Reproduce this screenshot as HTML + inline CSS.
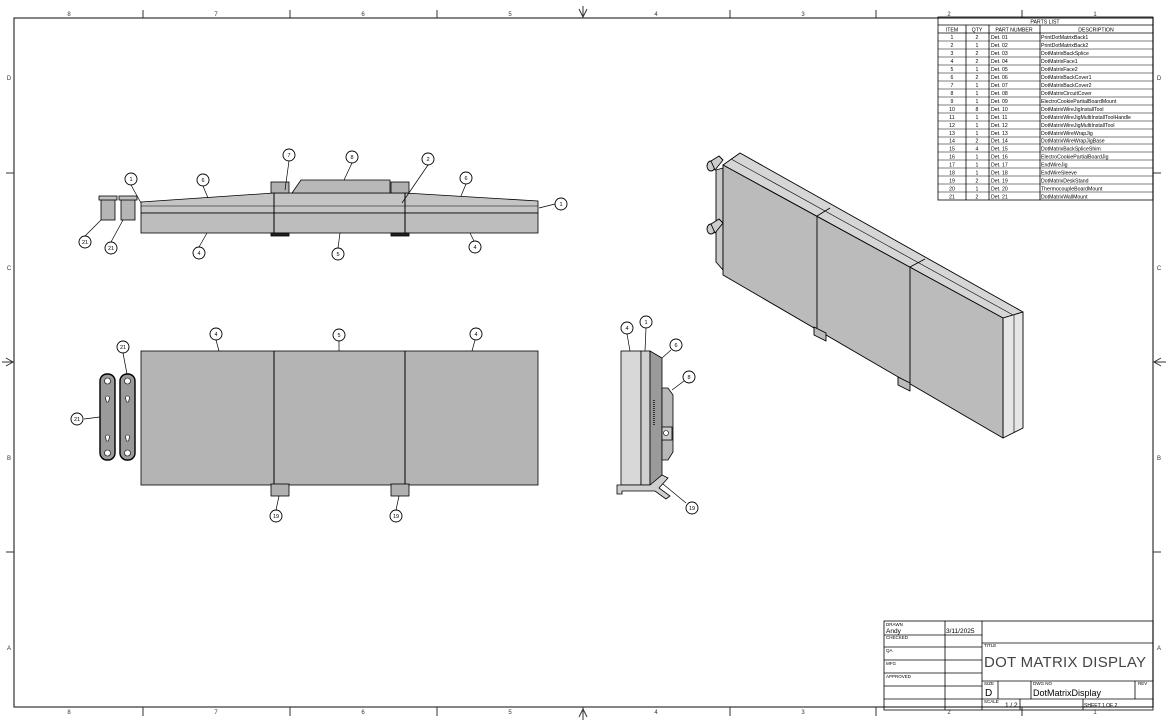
<!DOCTYPE html>
<html><head><meta charset="utf-8"><style>
html,body{margin:0;padding:0;background:#fff;}
svg{display:block;font-family:"Liberation Sans",sans-serif;}
</style></head><body>
<svg width="1167" height="726" viewBox="0 0 1167 726" xmlns="http://www.w3.org/2000/svg">
<defs>
<g id="b"><circle r="6" fill="#fff" stroke="#000" stroke-width="0.9"/></g>
</defs>
<rect x="14" y="18" width="1139" height="689" fill="none" stroke="#333" stroke-width="1.2"/>
<g stroke="#333" stroke-width="1">
<line x1="143" y1="10" x2="143" y2="18"/><line x1="290" y1="10" x2="290" y2="18"/><line x1="437" y1="10" x2="437" y2="18"/><line x1="583" y1="6" x2="583" y2="18"/><line x1="730" y1="10" x2="730" y2="18"/><line x1="876" y1="10" x2="876" y2="18"/><line x1="1022" y1="10" x2="1022" y2="18"/>
<line x1="143" y1="707" x2="143" y2="716"/><line x1="290" y1="707" x2="290" y2="716"/><line x1="437" y1="707" x2="437" y2="716"/><line x1="583" y1="707" x2="583" y2="720"/><line x1="730" y1="707" x2="730" y2="716"/><line x1="876" y1="707" x2="876" y2="716"/><line x1="1022" y1="707" x2="1022" y2="716"/>
<line x1="6" y1="173" x2="14" y2="173"/><line x1="2" y1="362" x2="14" y2="362"/><line x1="6" y1="552" x2="14" y2="552"/>
<line x1="1153" y1="173" x2="1161" y2="173"/><line x1="1153" y1="362" x2="1166" y2="362"/><line x1="1153" y1="552" x2="1161" y2="552"/>
</g>
<g fill="none" stroke="#333"><path d="M579 9 L583 17 L587 9"/><path d="M579 717 L583 709 L587 717"/><path d="M6 358 L13 362 L6 366"/><path d="M1161 358 L1154 362 L1161 366"/></g>
<g font-size="6" fill="#333" text-anchor="middle">
<text x="69" y="16">8</text><text x="216" y="16">7</text><text x="363" y="16">6</text><text x="510" y="16">5</text><text x="656" y="16">4</text><text x="803" y="16">3</text><text x="949" y="16">2</text><text x="1095" y="16">1</text>
<text x="69" y="714">8</text><text x="216" y="714">7</text><text x="363" y="714">6</text><text x="510" y="714">5</text><text x="656" y="714">4</text><text x="803" y="714">3</text><text x="949" y="714">2</text><text x="1095" y="714">1</text>
<text x="9" y="80">D</text><text x="9" y="270">C</text><text x="9" y="460">B</text><text x="9" y="650">A</text>
<text x="1159" y="80">D</text><text x="1159" y="270">C</text><text x="1159" y="460">B</text><text x="1159" y="650">A</text>
</g>

<g stroke="#000" stroke-width="0.8" fill="none">
<rect x="938" y="17" width="215" height="183"/>
<line x1="938" y1="25" x2="1153" y2="25"/>
<line x1="938" y1="33" x2="1153" y2="33"/>
<line x1="966" y1="25" x2="966" y2="200"/><line x1="989" y1="25" x2="989" y2="200"/><line x1="1040" y1="25" x2="1040" y2="200"/>
</g>
<g stroke="#000" stroke-width="0.5">
<line x1="938" y1="41" x2="1153" y2="41"/><line x1="938" y1="49" x2="1153" y2="49"/><line x1="938" y1="57" x2="1153" y2="57"/><line x1="938" y1="65" x2="1153" y2="65"/><line x1="938" y1="73" x2="1153" y2="73"/><line x1="938" y1="81" x2="1153" y2="81"/><line x1="938" y1="89" x2="1153" y2="89"/><line x1="938" y1="97" x2="1153" y2="97"/><line x1="938" y1="105" x2="1153" y2="105"/><line x1="938" y1="113" x2="1153" y2="113"/><line x1="938" y1="121" x2="1153" y2="121"/><line x1="938" y1="129" x2="1153" y2="129"/><line x1="938" y1="137" x2="1153" y2="137"/><line x1="938" y1="144" x2="1153" y2="144"/><line x1="938" y1="152" x2="1153" y2="152"/><line x1="938" y1="160" x2="1153" y2="160"/><line x1="938" y1="168" x2="1153" y2="168"/><line x1="938" y1="176" x2="1153" y2="176"/><line x1="938" y1="184" x2="1153" y2="184"/><line x1="938" y1="192" x2="1153" y2="192"/>
</g>
<g font-size="5.2" fill="#000">
<text x="1045" y="23.5" text-anchor="middle">PARTS LIST</text>
<text x="952" y="31.5" text-anchor="middle">ITEM</text><text x="977" y="31.5" text-anchor="middle">QTY</text><text x="1014" y="31.5" text-anchor="middle">PART NUMBER</text><text x="1096" y="31.5" text-anchor="middle">DESCRIPTION</text>
</g>
<g font-size="5.2" fill="#000">
<g text-anchor="middle">
<text x="952" y="39">1</text><text x="952" y="47">2</text><text x="952" y="55">3</text><text x="952" y="63">4</text><text x="952" y="71">5</text><text x="952" y="79">6</text><text x="952" y="87">7</text><text x="952" y="95">8</text><text x="952" y="103">9</text><text x="952" y="111">10</text><text x="952" y="119">11</text><text x="952" y="127">12</text><text x="952" y="135">13</text><text x="952" y="142.5">14</text><text x="952" y="150.5">15</text><text x="952" y="158.5">16</text><text x="952" y="166.5">17</text><text x="952" y="174.5">18</text><text x="952" y="182.5">19</text><text x="952" y="190.5">20</text><text x="952" y="198.5">21</text>
<text x="977" y="39">2</text><text x="977" y="47">1</text><text x="977" y="55">2</text><text x="977" y="63">2</text><text x="977" y="71">1</text><text x="977" y="79">2</text><text x="977" y="87">1</text><text x="977" y="95">1</text><text x="977" y="103">1</text><text x="977" y="111">8</text><text x="977" y="119">1</text><text x="977" y="127">1</text><text x="977" y="135">1</text><text x="977" y="142.5">2</text><text x="977" y="150.5">4</text><text x="977" y="158.5">1</text><text x="977" y="166.5">1</text><text x="977" y="174.5">1</text><text x="977" y="182.5">2</text><text x="977" y="190.5">1</text><text x="977" y="198.5">2</text>
</g>
<text x="991" y="39">Det. 01</text><text x="991" y="47">Det. 02</text><text x="991" y="55">Det. 03</text><text x="991" y="63">Det. 04</text><text x="991" y="71">Det. 05</text><text x="991" y="79">Det. 06</text><text x="991" y="87">Det. 07</text><text x="991" y="95">Det. 08</text><text x="991" y="103">Det. 09</text><text x="991" y="111">Det. 10</text><text x="991" y="119">Det. 11</text><text x="991" y="127">Det. 12</text><text x="991" y="135">Det. 13</text><text x="991" y="142.5">Det. 14</text><text x="991" y="150.5">Det. 15</text><text x="991" y="158.5">Det. 16</text><text x="991" y="166.5">Det. 17</text><text x="991" y="174.5">Det. 18</text><text x="991" y="182.5">Det. 19</text><text x="991" y="190.5">Det. 20</text><text x="991" y="198.5">Det. 21</text>
<text x="1041" y="39">PrintDotMatrixBack1</text><text x="1041" y="47">PrintDotMatrixBack2</text><text x="1041" y="55">DotMatrixBackSplice</text><text x="1041" y="63">DotMatrixFace1</text><text x="1041" y="71">DotMatrixFace2</text><text x="1041" y="79">DotMatrixBackCover1</text><text x="1041" y="87">DotMatrixBackCover2</text><text x="1041" y="95">DotMatrixCircuitCover</text><text x="1041" y="103">ElectroCookiePartialBoardMount</text><text x="1041" y="111">DotMatrixWireJigInstallTool</text><text x="1041" y="119">DotMatrixWireJigMultiInstallToolHandle</text><text x="1041" y="127">DotMatrixWireJigMultiInstallTool</text><text x="1041" y="135">DotMatrixWireWrapJig</text><text x="1041" y="142.5">DotMatrixWireWrapJigBase</text><text x="1041" y="150.5">DotMatrixBackSpliceShim</text><text x="1041" y="158.5">ElectroCookiePartialBoardJig</text><text x="1041" y="166.5">EndWireJig</text><text x="1041" y="174.5">EndWireSleeve</text><text x="1041" y="182.5">DotMatrixDeskStand</text><text x="1041" y="190.5">ThermocoupleBoardMount</text><text x="1041" y="198.5">DotMatrixWallMount</text>
</g>

<g stroke="#000" stroke-width="0.8" fill="none">
<rect x="884" y="621" width="269" height="89"/>
<line x1="945" y1="621" x2="945" y2="710"/><line x1="982" y1="621" x2="982" y2="710"/>
<line x1="884" y1="635" x2="982" y2="635"/><line x1="884" y1="647" x2="982" y2="647"/><line x1="884" y1="660" x2="982" y2="660"/><line x1="884" y1="673" x2="982" y2="673"/><line x1="884" y1="686" x2="982" y2="686"/><line x1="884" y1="699" x2="982" y2="699"/>
<line x1="982" y1="643" x2="1153" y2="643"/><line x1="982" y1="681" x2="1153" y2="681"/><line x1="982" y1="699" x2="1153" y2="699"/>
<line x1="998" y1="681" x2="998" y2="699"/><line x1="1031" y1="681" x2="1031" y2="699"/><line x1="1135" y1="681" x2="1135" y2="699"/>
<line x1="1020" y1="699" x2="1020" y2="710"/><line x1="1083" y1="699" x2="1083" y2="710"/>
</g>
<g font-size="4.5" fill="#000">
<text x="886" y="626">DRAWN</text><text x="886" y="639">CHECKED</text><text x="886" y="652">QA</text><text x="886" y="665">MFG</text><text x="886" y="678">APPROVED</text>
<text x="984" y="647">TITLE</text><text x="984" y="685">SIZE</text><text x="1033" y="685">DWG NO</text><text x="1138" y="685">REV</text><text x="984" y="703">SCALE</text>
</g>
<g font-size="6.5" fill="#000"><text x="886" y="633">Andy</text><text x="946" y="633">3/11/2025</text><text x="1005" y="707">1 / 2</text><text x="1084" y="707" font-size="5">SHEET 1  OF 2</text></g>
<text x="984" y="667" font-size="15" fill="#444" letter-spacing="2" textLength="164" lengthAdjust="spacing">DOT MATRIX DISPLAY</text>
<text x="985" y="696" font-size="10">D</text>
<text x="1033" y="696" font-size="9">DotMatrixDisplay</text>

<!-- TOP VIEW -->
<g stroke="#000" stroke-width="0.8">
<path d="M141 202 L274 193 L405 193 L538 201 L538 213 L141 213 Z" fill="#c4c4c4"/>
<rect x="141" y="213" width="397" height="20" fill="#bdbdbd"/>
<line x1="141" y1="206" x2="538" y2="206" stroke-width="0.5"/>
<line x1="274" y1="193" x2="274" y2="233" stroke-width="1"/><line x1="405" y1="193" x2="405" y2="233" stroke-width="1"/>
<rect x="271" y="182" width="18" height="11" fill="#b0b0b0"/><rect x="391" y="182" width="18" height="11" fill="#b0b0b0"/>
<path d="M292 193 L301 180 L390 180 L390 193 Z" fill="#b8b8b8"/>
<rect x="271" y="233" width="18" height="3" fill="#222"/><rect x="391" y="233" width="18" height="3" fill="#222"/>
<rect x="101" y="199" width="14" height="21" fill="#b5b5b5"/><rect x="99" y="196" width="18" height="4" fill="#c0c0c0"/>
<rect x="121" y="199" width="14" height="21" fill="#b5b5b5"/><rect x="119" y="196" width="18" height="4" fill="#c0c0c0"/>
</g>
<!-- FRONT VIEW -->
<g stroke="#000" stroke-width="0.8">
<rect x="141" y="351" width="397" height="134" fill="#b4b4b4"/>
<line x1="274" y1="351" x2="274" y2="485" stroke-width="1"/><line x1="405" y1="351" x2="405" y2="485" stroke-width="1"/>
<rect x="271" y="484" width="18" height="12" fill="#b0b0b0"/><rect x="391" y="484" width="18" height="12" fill="#b0b0b0"/>
<rect x="100" y="374" width="15" height="86" rx="7" fill="#9a9a9a" stroke-width="1.4"/>
<rect x="120" y="374" width="15" height="86" rx="7" fill="#9a9a9a" stroke-width="1.4"/>
</g>
<g fill="#fff" stroke="#000" stroke-width="0.6">
<circle cx="107.5" cy="381" r="3"/><circle cx="107.5" cy="453" r="3"/><circle cx="127.5" cy="381" r="3"/><circle cx="127.5" cy="453" r="3"/>
<path d="M105.5 398 a2 2 0 1 1 4 0 l-1 4 h-2 z"/><path d="M105.5 437 a2 2 0 1 1 4 0 l-1 4 h-2 z"/>
<path d="M125.5 398 a2 2 0 1 1 4 0 l-1 4 h-2 z"/><path d="M125.5 437 a2 2 0 1 1 4 0 l-1 4 h-2 z"/>
</g>
<!-- SIDE VIEW -->
<g stroke="#000" stroke-width="0.8">
<rect x="621" y="351" width="20" height="134" fill="#d8d8d8"/>
<rect x="641" y="351" width="9" height="134" fill="#cfcfcf"/>
<path d="M650 351 L662 358 L662 480 L650 485 Z" fill="#9a9a9a"/>
<path d="M662 388 L668 388 L673 395 L673 452 L668 460 L662 460 Z" fill="#b8b8b8"/>
<rect x="662" y="427" width="10" height="13" fill="#ccc"/>
<path d="M617 485 L650 485 L662 475 L668 478 L659 488 L670 496 L666 499 L655 491 L622 491 L622 494 L617 494 Z" fill="#cfcfcf"/>
</g>
<circle cx="666" cy="433" r="2.5" fill="#fff" stroke="#000" stroke-width="0.6"/>
<line x1="654" y1="400" x2="654" y2="425" stroke="#333" stroke-width="2" stroke-dasharray="1,1"/>

<!-- ISO VIEW -->
<g stroke="#000" stroke-width="0.9" stroke-linejoin="round">
<path d="M716 170 L723 168 L723 270 L716 262 Z" fill="#c8c8c8"/>
<path d="M723 165 L740 153 L1023 312 L1003 318 Z" fill="#d6d6d6"/>
<line x1="731" y1="159" x2="1013" y2="315" stroke-width="0.6"/>
<path d="M1003 318 L1023 312 L1023 428 L1003 438 Z" fill="#e6e6e6"/>
<line x1="1014" y1="315" x2="1014" y2="433" stroke-width="0.6"/>
<path d="M723 165 L1003 318 L1003 438 L723 275 Z" fill="#bbbbbb"/>
<line x1="817" y1="216" x2="817" y2="329"/><line x1="910" y1="267" x2="910" y2="384"/>
<line x1="817" y1="216" x2="830" y2="208"/><line x1="910" y1="267" x2="925" y2="259"/>
<path d="M814 327 L826 333 L826 341 L814 335 Z" fill="#bbb"/>
<path d="M898 377 L910 383 L910 391 L898 385 Z" fill="#bbb"/>
<ellipse cx="711" cy="166" rx="4" ry="5" fill="#ccc"/><path d="M711 161 L719 156 L723 160 L715 170 Z" fill="#ccc"/>
<ellipse cx="711" cy="229" rx="4" ry="5" fill="#ccc"/><path d="M711 224 L719 219 L723 223 L715 233 Z" fill="#ccc"/>
</g>

<g stroke="#000" stroke-width="0.7" fill="none">
<path d="M131 185 L141 203"/><path d="M203 186 L208 198"/><path d="M289 161 L285 190"/><path d="M352 163 L344 180"/><path d="M428 165 L402 203"/><path d="M466 184 L461 196"/><path d="M555 204 L539 208"/>
<path d="M85 236 L101 220"/><path d="M111 242 L123 220"/><path d="M199 247 L207 233"/><path d="M338 248 L340 233"/><path d="M474 241 L470 233"/>
<path d="M216 340 L219 351"/><path d="M339 341 L339 351"/><path d="M475 340 L472 351"/>
<path d="M123 353 L127 374"/><path d="M84 419 L100 417"/><path d="M276 510 L279 496"/><path d="M396 510 L399 496"/>
<path d="M627 334 L630 351"/><path d="M646 328 L645 351"/><path d="M671 350 L662 358"/><path d="M684 381 L672 390"/><path d="M686 503 L663 484"/>
</g>
<g font-size="5.5" text-anchor="middle" fill="#000">
<g transform="translate(131,179)"><use href="#b"/><text y="2">1</text></g>
<g transform="translate(203,180)"><use href="#b"/><text y="2">6</text></g>
<g transform="translate(289,155)"><use href="#b"/><text y="2">7</text></g>
<g transform="translate(352,157)"><use href="#b"/><text y="2">8</text></g>
<g transform="translate(428,159)"><use href="#b"/><text y="2">2</text></g>
<g transform="translate(466,178)"><use href="#b"/><text y="2">6</text></g>
<g transform="translate(561,204)"><use href="#b"/><text y="2">1</text></g>
<g transform="translate(85,242)"><use href="#b"/><text y="2">21</text></g>
<g transform="translate(111,248)"><use href="#b"/><text y="2">21</text></g>
<g transform="translate(199,253)"><use href="#b"/><text y="2">4</text></g>
<g transform="translate(338,254)"><use href="#b"/><text y="2">5</text></g>
<g transform="translate(475,247)"><use href="#b"/><text y="2">4</text></g>
<g transform="translate(216,334)"><use href="#b"/><text y="2">4</text></g>
<g transform="translate(339,335)"><use href="#b"/><text y="2">5</text></g>
<g transform="translate(476,334)"><use href="#b"/><text y="2">4</text></g>
<g transform="translate(123,347)"><use href="#b"/><text y="2">21</text></g>
<g transform="translate(77,419)"><use href="#b"/><text y="2">21</text></g>
<g transform="translate(276,516)"><use href="#b"/><text y="2">19</text></g>
<g transform="translate(396,516)"><use href="#b"/><text y="2">19</text></g>
<g transform="translate(627,328)"><use href="#b"/><text y="2">4</text></g>
<g transform="translate(646,322)"><use href="#b"/><text y="2">1</text></g>
<g transform="translate(676,345)"><use href="#b"/><text y="2">6</text></g>
<g transform="translate(689,377)"><use href="#b"/><text y="2">8</text></g>
<g transform="translate(692,508)"><use href="#b"/><text y="2">19</text></g>
</g>
</svg>
</body></html>
